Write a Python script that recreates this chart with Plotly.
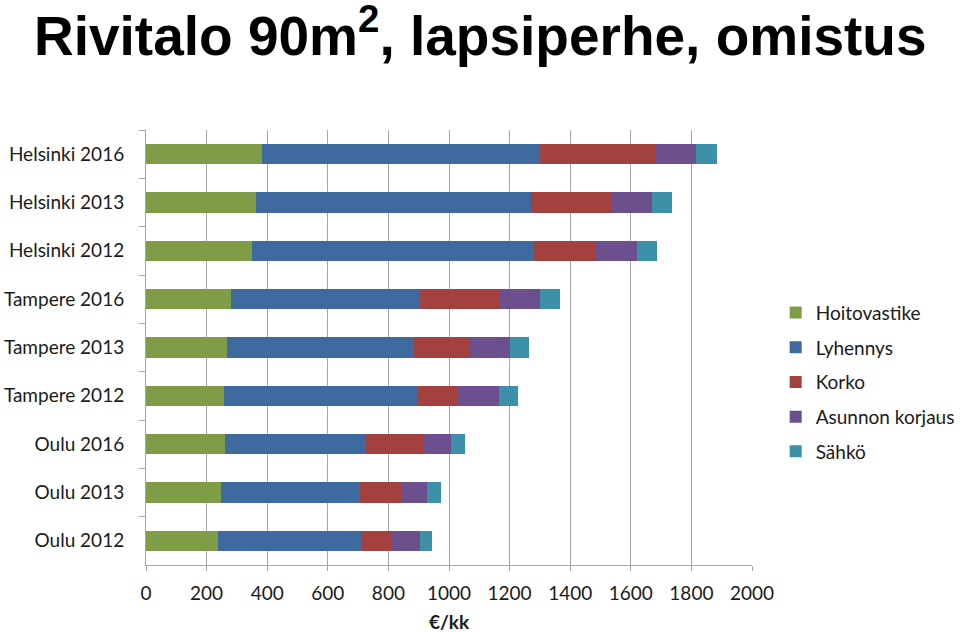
import plotly.graph_objects as go

categories = ["Helsinki 2016", "Helsinki 2013", "Helsinki 2012",
              "Tampere 2016", "Tampere 2013", "Tampere 2012",
              "Oulu 2016", "Oulu 2013", "Oulu 2012"]
hoitovastike = [382, 362, 351, 281, 266, 258, 261, 246, 238]
lyhennys = [918, 910, 931, 624, 620, 635, 462, 459, 471]
korko = [382, 264, 203, 260, 180, 136, 196, 137, 104]
korjaus = [133, 134, 135, 134, 134, 137, 87, 87, 90]
sahko = [70, 66, 66, 68, 63, 63, 46, 43, 41]

series = [
    ("Hoitovastike", hoitovastike, "#7F9C47"),
    ("Lyhennys", lyhennys, "#3F6A9F"),
    ("Korko", korko, "#A2413D"),
    ("Asunnon korjaus", korjaus, "#6C4F8D"),
    ("Sähkö", sahko, "#3C91A9"),
]

font_family = "Lato, 'Open Sans', sans-serif"

fig = go.Figure()
for i, (name, vals, col) in enumerate(series):
    fig.add_trace(go.Bar(
        y=categories, x=vals, name=name, orientation="h",
        marker=dict(color=col, line=dict(width=0)),
        legendgroup=f"g{i}",
    ))

fig.add_annotation(
    text="<b>Rivitalo 90m<sup>2</sup>, lapsiperhe, omistus</b>",
    xref="paper", yref="paper",
    x=(480 - 146) / 606, xanchor="center",
    y=1.31, yanchor="top",
    showarrow=False,
    font=dict(family="'Liberation Sans', Arial, sans-serif", size=55, color="black"),
)

fig.update_layout(
    width=960, height=633,
    barmode="stack",
    bargap=0.58,
    plot_bgcolor="white", paper_bgcolor="white",
    margin=dict(l=146, r=208, t=130, b=68, autoexpand=False),
    font=dict(family=font_family, size=17, color="#1a1a1a"),
    xaxis=dict(
        range=[0, 2000], dtick=200, tick0=0,
        showgrid=True, gridcolor="#A6A6A6", gridwidth=1,
        showline=True, linecolor="#A6A6A6", linewidth=1,
        ticks="outside", ticklen=5, tickcolor="#A6A6A6",
        zeroline=False,
        tickfont=dict(size=19),
        ticklabelstandoff=6,
        title=dict(text="<b>€/kk</b>", font=dict(size=19), standoff=12),
    ),
    yaxis=dict(
        categoryorder="array", categoryarray=categories,
        autorange="reversed",
        showline=True, linecolor="#A6A6A6", linewidth=1,
        ticks="outside", ticklen=6, tickcolor="#A6A6A6",
        tickson="boundaries",
        showgrid=False, zeroline=False,
        tickfont=dict(size=19),
        ticklabelstandoff=17,
    ),
    legend=dict(
        xref="container", yref="container",
        x=0.808, xanchor="left", y=0.536, yanchor="top",
        traceorder="grouped", tracegroupgap=7,
        font=dict(size=19),
        itemwidth=30,
        bgcolor="rgba(0,0,0,0)",
    ),
)

fig.write_html("out.html")
